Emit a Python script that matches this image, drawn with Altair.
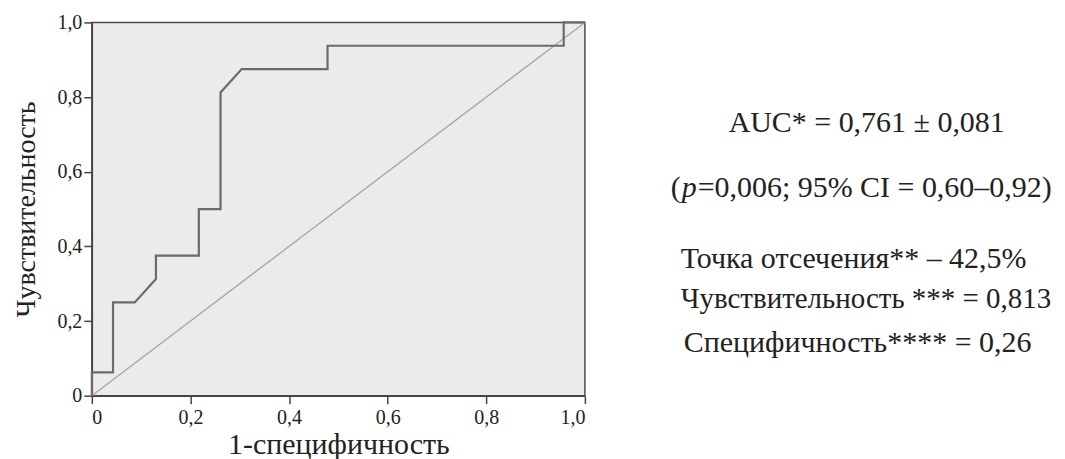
import altair as alt
import pandas as pd

# ROC curve points (1-specificity, sensitivity)
fpr = [0.0, 0.0, 0.043, 0.043, 0.087, 0.130, 0.130, 0.217, 0.217, 0.261, 0.261, 0.304, 0.478, 0.478, 0.957, 0.957, 1.0]
tpr = [0.0, 0.0625, 0.0625, 0.25, 0.25, 0.3125, 0.375, 0.375, 0.5, 0.5, 0.8125, 0.875, 0.875, 0.9375, 0.9375, 1.0, 1.0]
# reference (chance) diagonal
ref_x = [0.0, 1.0]
ref_y = [0.0, 1.0]
tick_values = [0, 0.2, 0.4, 0.6, 0.8, 1.0]

x_title = "1-специфичность"
y_title = "Чувствительность"

auc_line = "AUC* = 0,761 ± 0,081"
p_open = "("
p_letter = "p"
p_rest = " =0,006; 95% CI = 0,60–0,92)"
cut_line = "Точка отсечения** – 42,5%"
sens_line = "Чувствительность *** = 0,813"
spec_line = "Специфичность**** = 0,26"

FONT = "Liberation Serif, Times New Roman, DejaVu Serif, serif"
W, H = 494, 374

label_expr = "datum.value == 0 ? '0' : replace(format(datum.value, '.1f'), '.', ',')"

roc_df = pd.DataFrame({"fpr": fpr, "tpr": tpr, "step": list(range(len(fpr)))})
ref_df = pd.DataFrame({"fpr": ref_x, "tpr": ref_y, "step": [0, 1]})

x_enc = alt.X(
    "fpr:Q",
    scale=alt.Scale(domain=[0, 1], nice=False),
    axis=alt.Axis(
        values=tick_values, labelExpr=label_expr, title=x_title,
        titleX=W / 2, titleY=58, titleAlign="center", titleBaseline="alphabetic",
        titleFontSize=30, labelFontSize=20, labelPadding=4, tickSize=8,
    ),
)
y_enc = alt.Y(
    "tpr:Q",
    scale=alt.Scale(domain=[0, 1], nice=False),
    axis=alt.Axis(
        values=tick_values, labelExpr=label_expr, title=y_title,
        titleX=-57, titleY=H / 2, titleAngle=270, titleAlign="center", titleBaseline="alphabetic",
        titleFontSize=28, labelFontSize=20, labelPadding=2, tickSize=8,
    ),
)

diag = alt.Chart(ref_df).mark_line(color="#a6a6a6", strokeWidth=1.3).encode(
    x=x_enc, y=y_enc, order="step:Q"
)
roc = alt.Chart(roc_df).mark_line(color="#6b6b6b", strokeWidth=2.2).encode(
    x=x_enc, y=y_enc, order="step:Q"
)


def txt(s, x, y, size=30, italic=False):
    d = pd.DataFrame({"t": [s]})
    return alt.Chart(d).mark_text(
        font=FONT, fontSize=size, align="left", baseline="alphabetic",
        color="#222222", fontStyle="italic" if italic else "normal",
    ).encode(x=alt.value(x), y=alt.value(y), text="t:N")


texts = [
    txt(auc_line, 638, 110),
    txt(p_open, 580, 175),
    txt(p_letter, 591, 175, italic=True),
    txt(p_rest, 607, 175),
    txt(cut_line, 590, 246),
    txt(sens_line, 590, 286, size=29),
    txt(spec_line, 593, 330),
]

chart = alt.layer(diag, roc, *texts).properties(
    width=W, height=H,
    autosize=alt.AutoSizeParams(type="none"),
    padding={"left": 84, "top": 14, "right": 473, "bottom": 63},
    background="white",
).configure_view(
    fill="#ebebeb", stroke="#4d4d4d", strokeWidth=1.5
).configure_axis(
    labelFont=FONT, titleFont=FONT, labelColor="#222222", titleColor="#222222",
    titleFontWeight="normal", domainColor="#444444", domainWidth=1.5,
    tickColor="#444444", tickWidth=1.5, grid=False,
)

chart.save("out.html", embed_options={"renderer": "svg", "actions": False})
